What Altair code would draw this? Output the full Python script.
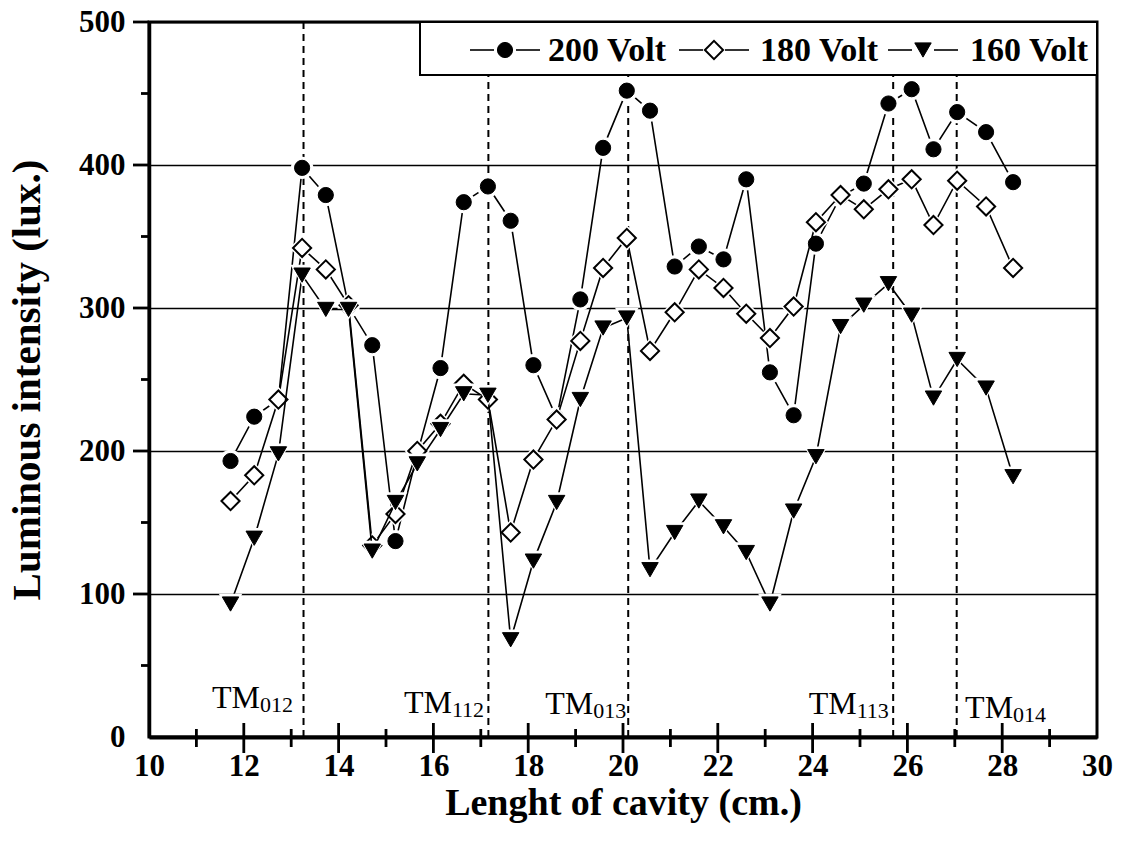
import altair as alt
import pandas as pd

# ---------------- data ----------------
x_cm = [11.72, 12.22, 12.73, 13.23, 13.73, 14.21, 14.71, 15.20, 15.66, 16.15,
        16.64, 17.15, 17.63, 18.11, 18.60, 19.10, 19.58, 20.08, 20.57, 21.09,
        21.60, 22.12, 22.60, 23.10, 23.60, 24.07, 24.59, 25.08, 25.60, 26.09,
        26.55, 27.05, 27.66, 28.23]
v200 = [193, 224, 236, 398, 379, 301, 274, 137, 198, 258,
        374, 385, 361, 260, 223, 306, 412, 452, 438, 329,
        343, 334, 390, 255, 225, 345, 378, 387, 443, 453,
        411, 437, 423, 388]
v180 = [165, 183, 236, 342, 327, 302, 134, 156, 200, 219,
        247, 236, 143, 194, 222, 277, 328, 349, 270, 297,
        327, 314, 296, 279, 301, 360, 379, 369, 383, 390,
        358, 389, 371, 328]
v160 = [93, 139, 198, 323, 299, 299, 130, 164, 191, 215,
        240, 239, 68, 123, 164, 236, 286, 293, 117, 143,
        165, 147, 129, 93, 158, 196, 287, 302, 317, 295,
        237, 264, 244, 182]
series_names = ["200 Volt", "180 Volt", "160 Volt"]

mode_x = [13.26, 17.16, 20.11, 25.70, 27.04]
tm_sub = ["012", "112", "013", "113", "014"]
tm_x = [12.34, 16.39, 19.37, 24.93, 28.23]
tm_y = [20, 17, 16, 16, 13]

x_major = [10, 12, 14, 16, 18, 20, 22, 24, 26, 28, 30]
x_minor = [11, 13, 15, 17, 19, 21, 23, 25, 27, 29]
y_major = [0, 100, 200, 300, 400, 500]
y_minor = [50, 150, 250, 350, 450]

# ---------------- layout / style ----------------
W, H = 948, 715
SERIF = "Liberation Serif"

xs = alt.Scale(domain=[10, 30], nice=False, zero=False)
ys = alt.Scale(domain=[0, 500], nice=False, zero=False)

xaxis = alt.Axis(values=x_major, format="d", ticks=False, grid=False,
                 domainColor="black", domainWidth=4, labelFlush=False,
                 labelOverlap=False, labelFont=SERIF, labelFontWeight="bold",
                 labelFontSize=31, labelColor="black", labelPadding=14,
                 title="Lenght of cavity (cm.)", titleFont=SERIF,
                 titleFontWeight="bold", titleFontSize=38, titleColor="black",
                 titlePadding=3)
yaxis = alt.Axis(values=y_major, format="d", ticks=False, grid=True,
                 gridColor="black", gridWidth=1.3, domainColor="black",
                 domainWidth=3.5, labelFlush=False, labelOverlap=False,
                 labelFont=SERIF, labelFontWeight="bold", labelFontSize=31,
                 labelColor="black", labelPadding=24,
                 title="Luminous intensity (lux.)", titleFont=SERIF,
                 titleFontWeight="bold", titleFontSize=41, titleColor="black",
                 titlePadding=30)


def X(field):
    return alt.X(field, type="quantitative", scale=xs, axis=xaxis)


def Y(field):
    return alt.Y(field, type="quantitative", scale=ys, axis=yaxis)


layers = []

# tick marks crossing the axes
df_xmaj = pd.DataFrame({"t": x_major[1:-1]})
df_xmin = pd.DataFrame({"t": x_minor})
df_ymaj = pd.DataFrame({"t": y_major[1:]})
df_ymin = pd.DataFrame({"t": y_minor})
layers.append(alt.Chart(df_xmaj).mark_rule(color="black", strokeWidth=2.8).encode(
    x=X("t"), y=alt.value(H - 14), y2=alt.value(H + 16)))
layers.append(alt.Chart(df_xmin).mark_rule(color="black", strokeWidth=2.8).encode(
    x=X("t"), y=alt.value(H - 8), y2=alt.value(H + 10)))
layers.append(alt.Chart(df_ymaj).mark_rule(color="black", strokeWidth=2.8).encode(
    y=Y("t"), x=alt.value(-16), x2=alt.value(0)))
layers.append(alt.Chart(df_ymin).mark_rule(color="black", strokeWidth=2.8).encode(
    y=Y("t"), x=alt.value(-8), x2=alt.value(0)))

# dashed resonance lines
df_modes = pd.DataFrame({"mx": mode_x})
layers.append(alt.Chart(df_modes).mark_rule(color="black", strokeWidth=2,
                                            strokeDash=[7, 5]).encode(
    x=X("mx"), y=alt.value(0), y2=alt.value(H)))

# series
styles = [
    dict(shape="circle", filled=True, fill="black", stroke="black", size=230,
         strokeWidth=1, halo=500),
    dict(shape="diamond", filled=True, fill="white", stroke="black", size=330,
         strokeWidth=2, halo=640),
    dict(shape="triangle-down", filled=True, fill="black", stroke="black",
         size=270, strokeWidth=1, halo=560),
]
values = [v200, v180, v160]
for name, vals, st in zip(series_names, values, styles):
    df = pd.DataFrame({"x": x_cm, "v": vals, "s": name})
    base = alt.Chart(df)
    layers.append(base.mark_line(color="black", strokeWidth=1.6).encode(
        x=X("x"), y=Y("v")))
    layers.append(base.mark_point(shape=st["shape"], filled=True, fill="white",
                                  stroke="white", strokeWidth=0, opacity=1,
                                  size=st["halo"]).encode(x=X("x"), y=Y("v")))
    layers.append(base.mark_point(shape=st["shape"], filled=True,
                                  fill=st["fill"], stroke=st["stroke"],
                                  strokeWidth=st["strokeWidth"], opacity=1,
                                  size=st["size"]).encode(x=X("x"), y=Y("v")))

# TM mode labels
df_tm = pd.DataFrame({"tx": tm_x, "ty": tm_y, "main": ["TM"] * len(tm_sub),
                      "sub": tm_sub})
layers.append(alt.Chart(df_tm).mark_text(font=SERIF, fontSize=32, align="right",
                                         baseline="alphabetic", color="black").encode(
    x=X("tx"), y=Y("ty"), text="main:N"))
layers.append(alt.Chart(df_tm).mark_text(font=SERIF, fontSize=22, align="left",
                                         baseline="alphabetic", dy=4,
                                         color="black").encode(
    x=X("tx"), y=Y("ty"), text="sub:N"))

# legend box (drawn by hand, top right inside the plot)
layers.append(alt.Chart(pd.DataFrame({"a": [0]})).mark_rect(
    fill="white", stroke="black", strokeWidth=2).encode(
    x=alt.value(271), x2=alt.value(W), y=alt.value(0), y2=alt.value(53)))
leg_marker_x = [356, 565, 774]
leg_text_x = [399, 611, 821]
for name, st, mx, tx in zip(series_names, styles, leg_marker_x, leg_text_x):
    one = alt.Chart(pd.DataFrame({"s": [name]}))
    layers.append(one.mark_rule(color="black", strokeWidth=1.6).encode(
        x=alt.value(mx - 35), x2=alt.value(mx - 11), y=alt.value(28)))
    layers.append(one.mark_rule(color="black", strokeWidth=1.6).encode(
        x=alt.value(mx + 11), x2=alt.value(mx + 35), y=alt.value(28)))
    layers.append(one.mark_point(shape=st["shape"], filled=True,
                                 fill=st["fill"], stroke=st["stroke"],
                                 strokeWidth=st["strokeWidth"], opacity=1,
                                 size=st["size"]).encode(
        x=alt.value(mx), y=alt.value(28)))
    layers.append(one.mark_text(font=SERIF, fontSize=34, fontWeight="bold",
                                align="left", baseline="alphabetic",
                                color="black").encode(
        x=alt.value(tx), y=alt.value(39), text="s:N"))

chart = alt.layer(*layers).properties(
    width=W, height=H,
    autosize=alt.AutoSizeParams(type="none"),
    padding={"left": 149, "top": 22, "right": 28, "bottom": 105},
    background="white",
).configure_view(stroke="black", strokeWidth=3)

chart.save("out.html", embed_options={"renderer": "svg", "actions": False})
